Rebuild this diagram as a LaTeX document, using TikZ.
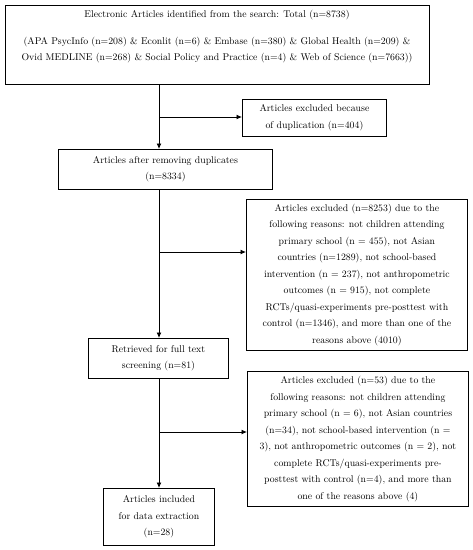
\documentclass[tikz,border=0pt]{standalone}
\usetikzlibrary{arrows.meta}
\begin{document}
\begin{tikzpicture}[x=1pt,y=-1pt,
  box/.style={draw, line width=0.9pt, align=center, inner sep=0pt, anchor=north west,
    font=\fontsize{9.8}{16.5}\selectfont},
  txt/.style={align=center, inner sep=0pt, font=\fontsize{9.8}{16.5}\selectfont},
  arr/.style={-{Latex[length=5.5pt,width=5pt]}, line width=0.9pt}]
\useasboundingbox (0,0) rectangle (473,550);
\fill[white] (0,0) rectangle (473,550);
% boxes
\node[box, minimum width=424pt, minimum height=79pt] (src) at (5,5) {};
\node[txt] (srctext) at (217,37) {Electronic Articles identified from the search: Total (n=8738)\\[10pt]
(APA PsycInfo (n=208) \& Econlit (n=6) \& Embase (n=380) \& Global Health (n=209) \&\\
Ovid MEDLINE (n=268) \& Social Policy and Practice (n=4) \& Web of Science (n=7663))};
\node[box, minimum width=144pt, minimum height=37pt] (dup) at (242,99)
  {Articles excluded because\\of duplication (n=404)};
\node[box, minimum width=214pt, minimum height=40pt] (after) at (58,149)
  {Articles after removing duplicates\\(n=8334)};
\node[box, minimum width=221pt, minimum height=151pt] (ex1) at (246,199)
  {Articles excluded (n=8253) due to the\\
   following reasons: not children attending\\
   primary school (n = 455), not Asian\\
   countries (n=1289), not school-based\\
   intervention (n = 237), not anthropometric\\
   outcomes (n = 915), not complete\\
   RCTs/quasi-experiments pre-posttest with\\
   control (n=1346), and more than one of the\\
   reasons above (4010)};
\node[box, minimum width=140pt, minimum height=40pt] (retr) at (88,338)
  {Retrieved for full text\\screening (n=81)};
\node[box, minimum width=221pt, minimum height=135pt] (ex2) at (247,371)
  {Articles excluded (n=53) due to the\\
   following reasons: not children attending\\
   primary school (n = 6), not Asian countries\\
   (n=34), not school-based intervention (n =\\
   3), not anthropometric outcomes (n = 2), not\\
   complete RCTs/quasi-experiments pre-\\
   posttest with control (n=4), and more than\\
   one of the reasons above (4)};
\node[box, minimum width=111pt, minimum height=57pt] (incl) at (103,488)
  {Articles included\\for data extraction\\(n=28)};
% junctions
\coordinate (j1) at (159,117);
\coordinate (j2) at (159,252);
\coordinate (j3) at (159,432);
% connectors
\draw[arr] (src.south -| j1) -- (after.north -| j1);
\draw[arr] (j1) -- (j1 -| dup.west);
\draw[arr] (after.south -| j2) -- (retr.north -| j2);
\draw[arr] (j2) -- (j2 -| ex1.west);
\draw[arr] (retr.south -| j3) -- (incl.north -| j3);
\draw[arr] (j3) -- (j3 -| ex2.west);
\end{tikzpicture}
\end{document}
